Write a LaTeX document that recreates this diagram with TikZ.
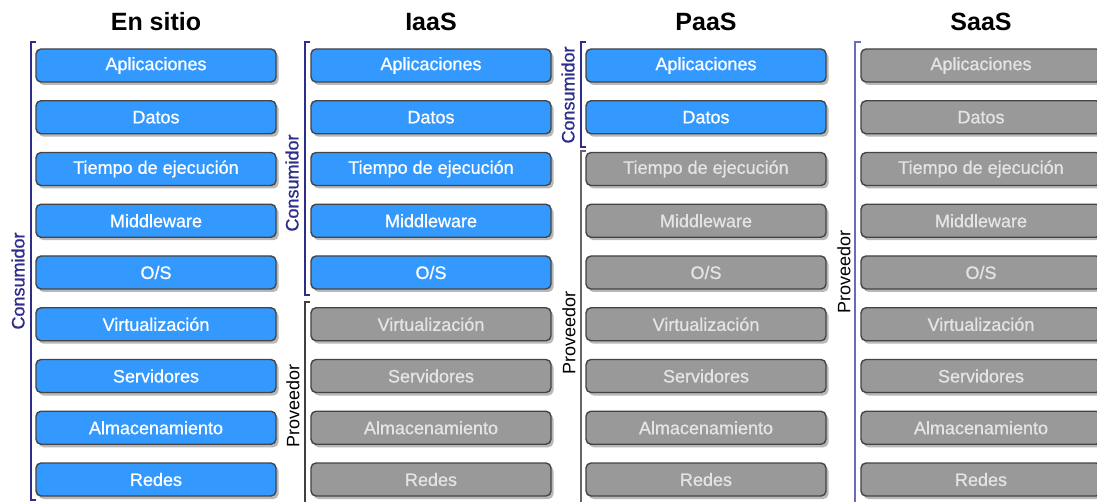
\documentclass[tikz,border=0pt]{standalone}
\usepackage{fontspec}
\setmainfont{Liberation Sans}
\newfontfamily\heavyfont[RawFeature={embolden=0.8}]{Liberation Sans}
\usetikzlibrary{shadows}
\definecolor{bluefill}{HTML}{3399FF}
\definecolor{grayfill}{HTML}{999999}
\definecolor{boxline}{HTML}{444444}
\definecolor{graytext}{HTML}{E4E4E4}
\definecolor{navy}{HTML}{2E2E8A}
\definecolor{lavender}{HTML}{6A6AC0}
\tikzset{
  layer/.style={rounded corners=5pt, draw=boxline, line width=1.4pt,
    minimum width=240pt, minimum height=33pt, inner sep=0pt,
    font=\heavyfont\fontsize{18}{20}\selectfont,
    drop shadow={shadow xshift=2.5pt, shadow yshift=-3pt, fill=black!28, opacity=1}},
  ublue/.style={layer, fill=bluefill, text=white},
  ugray/.style={layer, fill=grayfill, text=graytext},
  title/.style={font=\fontsize{25}{28}\selectfont\bfseries},
  side/.style={rotate=90, font=\heavyfont\fontsize{18}{20}\selectfont, inner sep=0pt},
  sideprov/.style={rotate=90, font=\fontsize{18}{20}\selectfont, inner sep=0pt, text=black},
  brk/.style={line width=1.3pt}
}
\begin{document}
\begin{tikzpicture}[x=1pt,y=-1pt]
\clip (0,0) rectangle (1097,502);
\fill[white] (0,0) rectangle (1097,502);
% titles
\node[title] (t1) at (156,22) {En sitio};
\node[title] (t2) at (431,22) {IaaS};
\node[title] (t3) at (706,22) {PaaS};
\node[title] (t4) at (981,22) {SaaS};
% rows
\foreach \lab/\k in {Aplicaciones/1,Datos/2,Tiempo de ejecución/3,Middleware/4,{O/S}/5,Virtualización/6,Servidores/7,Almacenamiento/8,Redes/9}{
  \pgfmathsetmacro{\yy}{65.5+51.75*(\k-1)}
  \node[ublue] (a\k) at (156,\yy) {\lab};
  \ifnum\k<6 \node[ublue] (b\k) at (431,\yy) {\lab};
  \else \node[ugray] (b\k) at (431,\yy) {\lab}; \fi
  \ifnum\k<3 \node[ublue] (c\k) at (706,\yy) {\lab};
  \else \node[ugray] (c\k) at (706,\yy) {\lab}; \fi
  \node[ugray] (d\k) at (981,\yy) {\lab};
}
% brackets
\draw[brk, navy] (36,42) -- (31,42) -- (31,500) -- (36,500);
\node[side, text=navy] (l1) at (18,281) {Consumidor};
\draw[brk, navy] (310,42) -- (305,42) -- (305,295) -- (310,295);
\node[side, text=navy] (l2) at (292,183) {Consumidor};
\draw[brk, black!75] (310,302) -- (305,302) -- (305,502);
\node[sideprov] (l3) at (293,406) {Proveedor};
\draw[brk, navy] (586,42) -- (581,42) -- (581,147) -- (586,147);
\node[side, text=navy] (l4) at (568,95) {Consumidor};
\draw[brk, black!60] (586,151) -- (581,151) -- (581,502);
\node[sideprov] (l5) at (569,333) {Proveedor};
\draw[brk, lavender] (861,42) -- (855,42) -- (855,502);
\node[sideprov] (l6) at (844,272) {Proveedor};
\end{tikzpicture}
\end{document}
